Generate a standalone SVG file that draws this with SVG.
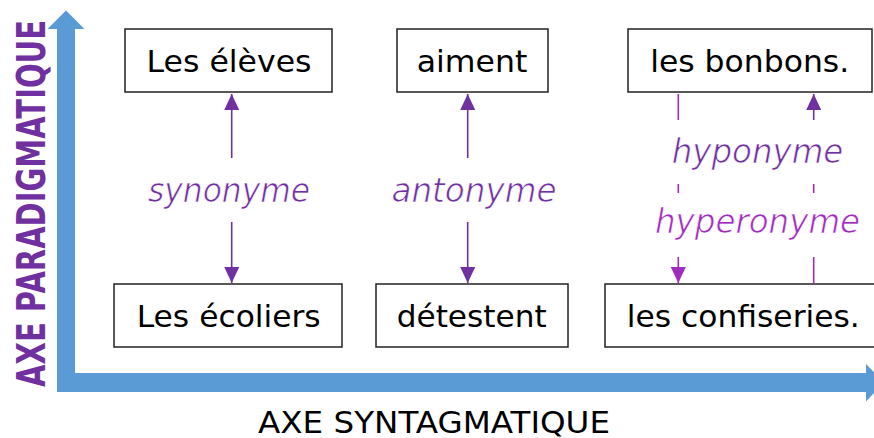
<svg xmlns="http://www.w3.org/2000/svg" width="874" height="438" viewBox="0 0 874 438">
  <style>
    .box { fill: #ffffff; stroke: #222222; stroke-width: 1.5; }
    .nt { font-family: "DejaVu Sans", Verdana, sans-serif; font-size: 31px; fill: #000000; text-anchor: middle; }
    .rel { font-family: "DejaVu Sans", Verdana, sans-serif; font-size: 33px; font-style: italic; text-anchor: middle; stroke: #ffffff; stroke-width: 0.7; }
    .p1 { fill: #7030A0; }
    .p2 { fill: #A02CBE; }
    .l1 { stroke: #7030A0; stroke-width: 1.6; fill: none; }
    .l2 { stroke: #A02CBE; stroke-width: 1.6; fill: none; }
  </style>
  <defs>
    <marker id="ah1" viewBox="0 0 16 15" refX="16" refY="7.5" markerWidth="16" markerHeight="15" markerUnits="userSpaceOnUse" orient="auto">
      <path d="M0,0 L16,7.5 L0,15 Z" fill="#7030A0"/>
    </marker>
    <marker id="ah2" viewBox="0 0 16 15" refX="16" refY="7.5" markerWidth="16" markerHeight="15" markerUnits="userSpaceOnUse" orient="auto">
      <path d="M0,0 L16,7.5 L0,15 Z" fill="#A02CBE"/>
    </marker>
  </defs>

  <g id="axes">
    <path d="M57,29 L57,392 L866,392 L866,401.5 L884,382.5 L866,364 L866,373 L75,373 L75,29 L84.5,29 L66,10.5 L47.5,29 Z" fill="#5B9BD5"/>
    <text transform="translate(44.5,203.5) rotate(-90) scale(0.744,1)" x="0" y="0" font-family="DejaVu Sans, Verdana, sans-serif" font-weight="bold" font-size="39" fill="#7030A0" text-anchor="middle">AXE PARADIGMATIQUE</text>
    <text x="434" y="432.7" font-family="DejaVu Sans, Verdana, sans-serif" font-size="31" fill="#000000" text-anchor="middle" textLength="352" lengthAdjust="spacingAndGlyphs">AXE SYNTAGMATIQUE</text>
  </g>

  <g id="node-eleves">
    <rect class="box" x="125" y="29" width="207" height="63"/>
    <text class="nt" x="229" y="71.7" textLength="165" lengthAdjust="spacingAndGlyphs">Les élèves</text>
  </g>
  <g id="node-aiment">
    <rect class="box" x="397" y="29" width="151" height="63"/>
    <text class="nt" x="472" y="71.7" textLength="110.6" lengthAdjust="spacingAndGlyphs">aiment</text>
  </g>
  <g id="node-bonbons">
    <rect class="box" x="628" y="29" width="244" height="63"/>
    <text class="nt" x="749.7" y="71.7" textLength="199" lengthAdjust="spacingAndGlyphs">les bonbons.</text>
  </g>
  <g id="node-ecoliers">
    <rect class="box" x="114" y="284" width="228" height="63"/>
    <text class="nt" x="228.7" y="326.7" textLength="184" lengthAdjust="spacingAndGlyphs">Les écoliers</text>
  </g>
  <g id="node-detestent">
    <rect class="box" x="376" y="284" width="192" height="63"/>
    <text class="nt" x="471.7" y="326.7" textLength="150" lengthAdjust="spacingAndGlyphs">détestent</text>
  </g>
  <g id="node-confiseries">
    <rect class="box" x="605" y="284" width="280" height="63"/>
    <text class="nt" x="743.3" y="326.7" textLength="233" lengthAdjust="spacingAndGlyphs">les confiseries.</text>
  </g>

  <g id="connectors">
    <line class="l1" x1="231.7" y1="158" x2="231.7" y2="94" marker-end="url(#ah1)"/>
    <line class="l1" x1="231.7" y1="222" x2="231.7" y2="283" marker-end="url(#ah1)"/>
    <line class="l1" x1="467.7" y1="158" x2="467.7" y2="94" marker-end="url(#ah1)"/>
    <line class="l1" x1="467.7" y1="222" x2="467.7" y2="283" marker-end="url(#ah1)"/>
    <line class="l2" x1="678.3" y1="94" x2="678.3" y2="120"/>
    <line class="l2" x1="678.3" y1="184" x2="678.3" y2="193"/>
    <line class="l2" x1="678.3" y1="257" x2="678.3" y2="283" marker-end="url(#ah2)"/>
    <line class="l1" x1="813.7" y1="120" x2="813.7" y2="94" marker-end="url(#ah1)"/>
    <line class="l2" x1="813.7" y1="184" x2="813.7" y2="193"/>
    <line class="l2" x1="813.7" y1="257" x2="813.7" y2="284"/>
  </g>

  <g id="labels">
    <text class="rel p1" x="229" y="201.7" textLength="162" lengthAdjust="spacingAndGlyphs">synonyme</text>
    <text class="rel p1" x="474" y="201.7" textLength="165" lengthAdjust="spacingAndGlyphs">antonyme</text>
    <text class="rel p1" x="757.5" y="163.3" textLength="171.6" lengthAdjust="spacingAndGlyphs">hyponyme</text>
    <text class="rel p2" x="757.5" y="233.3" textLength="205" lengthAdjust="spacingAndGlyphs">hyperonyme</text>
  </g>
</svg>
